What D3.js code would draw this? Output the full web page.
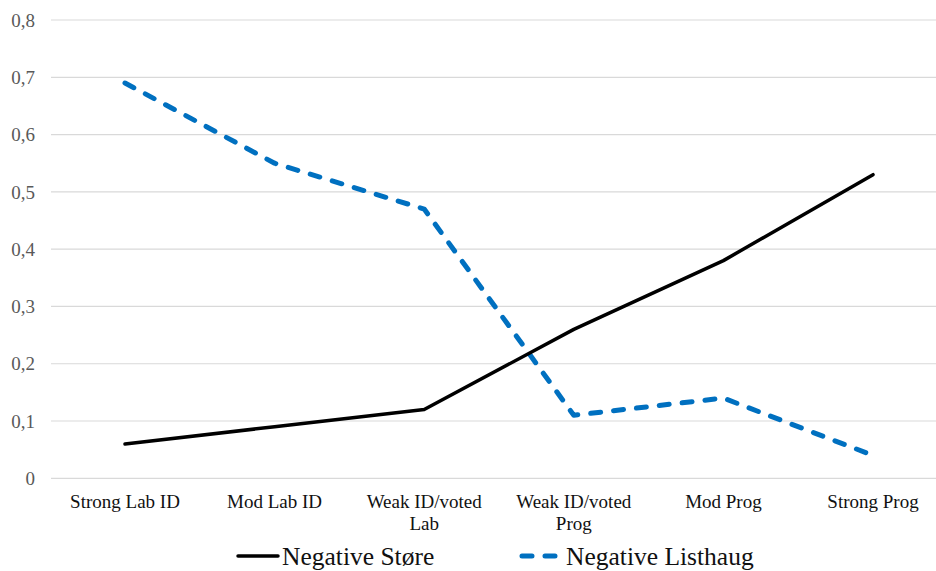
<!DOCTYPE html>
<html>
<head>
<meta charset="utf-8">
<script src="https://cdn.jsdelivr.net/npm/d3@7"></script>
<style>
  html, body { margin: 0; padding: 0; background: #fff; overflow: hidden; }
  svg { display: block; }
</style>
</head>
<body>
<script>
const W = 936, H = 571;

// data
const categories = ['Strong Lab ID', 'Mod Lab ID', 'Weak ID/voted Lab', 'Weak ID/voted Prog', 'Mod Prog', 'Strong Prog'];
const catLines = [['Strong Lab ID'], ['Mod Lab ID'], ['Weak ID/voted', 'Lab'], ['Weak ID/voted', 'Prog'], ['Mod Prog'], ['Strong Prog']];
const store = [0.06, 0.09, 0.12, 0.26, 0.38, 0.53];
const listhaug = [0.69, 0.55, 0.47, 0.11, 0.14, 0.04];
const yTicks = [0, 0.1, 0.2, 0.3, 0.4, 0.5, 0.6, 0.7, 0.8];
const seriesNames = ['Negative Støre', 'Negative Listhaug'];

const svg = d3.select('body').append('svg')
    .attr('width', W)
    .attr('height', H);

// plot runs a little past the right edge, like the original crop
const x = d3.scalePoint()
    .domain(categories)
    .range([125, 873]);
const y = d3.scaleLinear()
    .domain([0, 0.8])
    .range([478.3, 20]);

const fmt = d => d === 0 ? '0' : d3.format('.1f')(d).replace('.', ',');
const FONT = '"Liberation Serif", "Times New Roman", serif';

// gridlines
svg.append('g')
  .selectAll('line')
  .data(yTicks)
  .join('line')
    .attr('x1', 51)
    .attr('x2', 950)
    .attr('y1', d => y(d))
    .attr('y2', d => y(d))
    .attr('stroke', '#d9d9d9')
    .attr('stroke-width', 1.2);

// y labels
svg.append('g')
  .selectAll('text')
  .data(yTicks)
  .join('text')
    .attr('x', 35)
    .attr('y', d => y(d))
    .attr('dy', '0.35em')
    .attr('text-anchor', 'end')
    .attr('font-family', FONT)
    .attr('font-size', 19)
    .attr('fill', '#595959')
    .text(fmt);

// x labels
const xl = svg.append('g')
  .selectAll('text')
  .data(categories)
  .join('text')
    .attr('x', d => x(d))
    .attr('y', 508)
    .attr('text-anchor', 'middle')
    .attr('font-family', FONT)
    .attr('font-size', 19)
    .attr('fill', '#111');
xl.selectAll('tspan')
  .data((d, i) => catLines[i])
  .join('tspan')
    .attr('x', function() { return this.parentNode.getAttribute('x'); })
    .attr('dy', (d, i) => i === 0 ? 0 : 22)
    .text(d => d);

const line = d3.line()
    .x((d, i) => x(categories[i]))
    .y(d => y(d));

svg.append('path')
    .datum(listhaug)
    .attr('d', line)
    .attr('fill', 'none')
    .attr('stroke', '#0070c0')
    .attr('stroke-width', 5)
    .attr('stroke-linecap', 'round')
    .attr('stroke-linejoin', 'round')
    .attr('stroke-dasharray', '10,13');

svg.append('path')
    .datum(store)
    .attr('d', line)
    .attr('fill', 'none')
    .attr('stroke', '#000')
    .attr('stroke-width', 3.5)
    .attr('stroke-linecap', 'round')
    .attr('stroke-linejoin', 'round');

// legend
const legend = svg.append('g');
const legendX = [236, 520];
seriesNames.forEach((name, i) => {
  const g = legend.append('g').attr('transform', `translate(${legendX[i]},556)`);
  g.append('line')
    .attr('x1', 2).attr('x2', 42)
    .attr('stroke', i === 0 ? '#000' : '#0070c0')
    .attr('stroke-width', i === 0 ? 3.5 : 5)
    .attr('stroke-linecap', 'round')
    .attr('stroke-dasharray', i === 0 ? null : '10,13');
  g.append('text')
    .attr('x', 46)
    .attr('dy', '0.35em')
    .attr('font-family', FONT)
    .attr('font-size', 25.5)
    .attr('fill', '#111')
    .text(name);
});
</script>
</body>
</html>
